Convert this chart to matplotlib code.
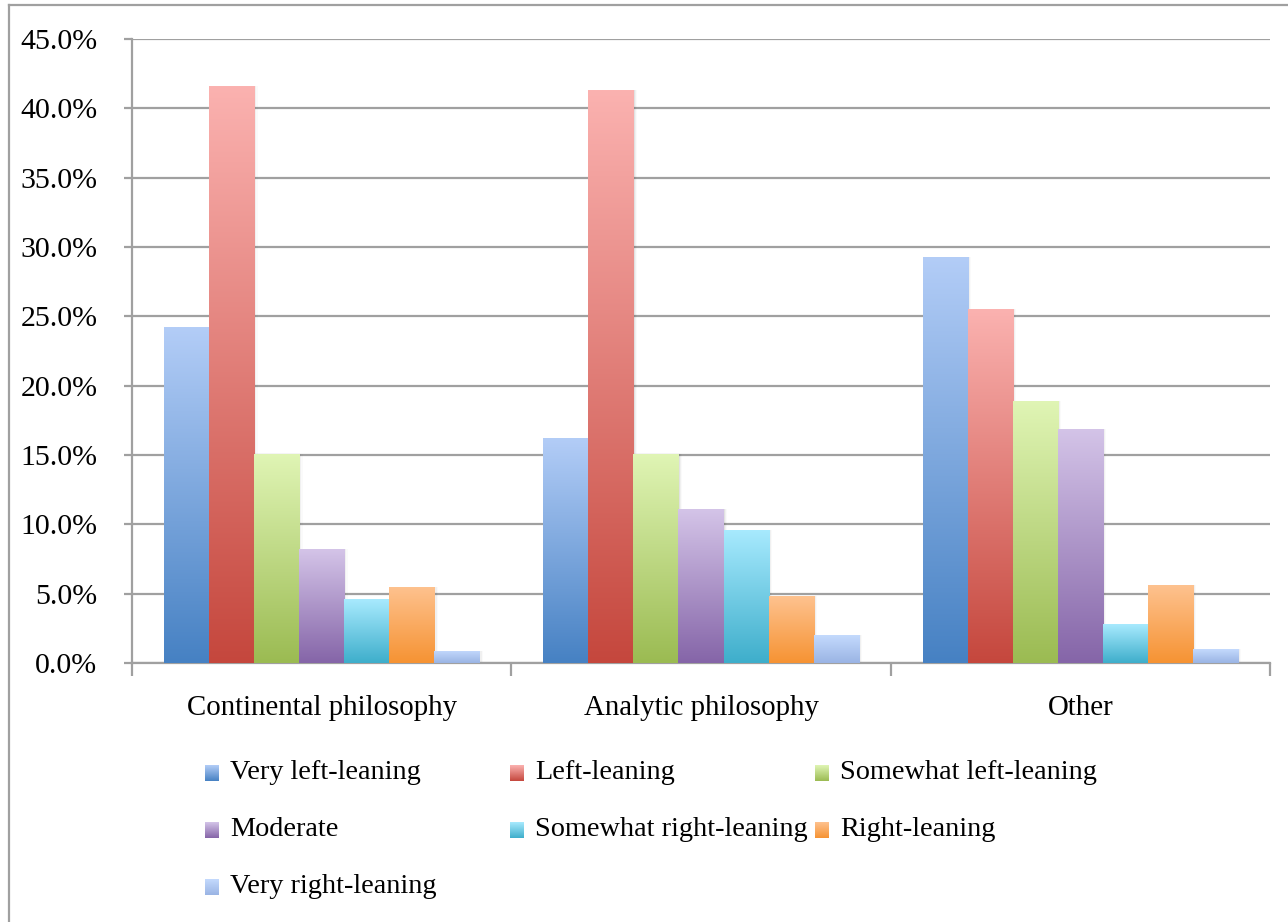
import numpy as np
import matplotlib
matplotlib.use("Agg")
import matplotlib.pyplot as plt
from matplotlib.colors import LinearSegmentedColormap
from matplotlib.lines import Line2D
from matplotlib.ticker import FuncFormatter, MultipleLocator

plt.rcParams['font.family'] = ['Liberation Serif', 'DejaVu Serif']

categories = ['Continental philosophy', 'Analytic philosophy', 'Other']
series = ['Very left-leaning', 'Left-leaning', 'Somewhat left-leaning',
          'Moderate', 'Somewhat right-leaning', 'Right-leaning',
          'Very right-leaning']

# share of respondents (%) per category, one list per series
very_left = [24.2, 16.2, 29.3]
left = [41.6, 41.3, 25.5]
somewhat_left = [15.1, 15.1, 18.9]
moderate = [8.2, 11.1, 16.9]
somewhat_right = [4.6, 9.6, 2.8]
right = [5.5, 4.8, 5.6]
very_right = [0.9, 2.0, 1.0]
values = [very_left, left, somewhat_left, moderate,
          somewhat_right, right, very_right]

# (top colour, bottom colour) of each series' gradient
shades = [('#b3cdf7', '#4681c3'),
          ('#fbb2b0', '#c5473d'),
          ('#e0f5b5', '#9bbb52'),
          ('#d4c4e8', '#8565a8'),
          ('#a8eafe', '#3eaecb'),
          ('#fec28f', '#f69333'),
          ('#c4dafd', '#9ab4e4')]

grey = '#a0a0a0'
W, H = 1288, 922
fig = plt.figure(figsize=(W / 100, H / 100), dpi=100)
ax = fig.add_axes([132 / W, 1 - 663 / H, (1270 - 132) / W, (663 - 39) / H])

ramp = np.linspace(0, 1, 256).reshape(-1, 1)
x = np.arange(len(categories))
bw = 0.1187
n = len(series)

for i, (vals, (top, bot)) in enumerate(zip(values, shades)):
    cmap = LinearSegmentedColormap.from_list('s%d' % i, [bot, top])
    pos = x + (i - (n - 1) / 2) * bw
    # soft shadow on the right of each bar
    for k, a in enumerate([0.06, 0.04, 0.02]):
        ax.bar(pos + 0.003 * (k + 1), vals, bw, color='#000000', alpha=a,
               zorder=2, linewidth=0)
    bars = ax.bar(pos, vals, bw, color='none', linewidth=0, zorder=3)
    for b in bars:
        x0, y0 = b.get_x(), b.get_y()
        im = ax.imshow(ramp, cmap=cmap, origin='lower', aspect='auto',
                       extent=[x0, x0 + b.get_width(), y0, y0 + b.get_height()],
                       zorder=3, interpolation='bilinear')
        im.set_clip_path(b)

ax.set_xlim(-0.5, len(categories) - 0.5)
ax.set_ylim(0, 45)
ax.yaxis.set_major_locator(MultipleLocator(5))
ax.yaxis.set_major_formatter(FuncFormatter(lambda v, p: '%.1f%%' % v))
ax.grid(axis='y', color=grey, linewidth=1.6, zorder=1)
ax.set_axisbelow(True)

ax.set_xticks(x)
ax.set_xticklabels(categories)
ax.set_xticks(np.arange(len(categories) + 1) - 0.5, minor=True)
ax.tick_params(axis='x', which='major', length=0, pad=23, labelsize=20.8)
ax.tick_params(axis='x', which='minor', length=9, width=1.6, color=grey)
ax.tick_params(axis='y', length=6, width=1.6, color=grey, pad=19,
               labelsize=21.5)

for s in ['top', 'right']:
    ax.spines[s].set_visible(False)
for s in ['left', 'bottom']:
    ax.spines[s].set_color(grey)
    ax.spines[s].set_linewidth(1.6)

# legend laid out in three equal columns
for i, name in enumerate(series):
    row, col = divmod(i, 3)
    lx = 205 + col * 305
    ly = 772 + row * 57
    top, bot = shades[i]
    cmap = LinearSegmentedColormap.from_list('l%d' % i, [bot, top])
    lax = fig.add_axes([lx / W, 1 - (ly + 9) / H, 14 / W, 16 / H])
    lax.imshow(ramp, cmap=cmap, origin='lower', aspect='auto')
    lax.axis('off')
    fig.text((lx + 25) / W, 1 - ly / H, name, fontsize=20.3,
             va='center', ha='left')

# thin frame along the top and left edge
fig.add_artist(Line2D([9 / W, 1], [1 - 5 / H, 1 - 5 / H], color=grey,
                      linewidth=1.6, transform=fig.transFigure))
fig.add_artist(Line2D([9 / W, 9 / W], [0, 1 - 5 / H], color=grey,
                      linewidth=1.6, transform=fig.transFigure))

fig.savefig('out.png', dpi=100)
